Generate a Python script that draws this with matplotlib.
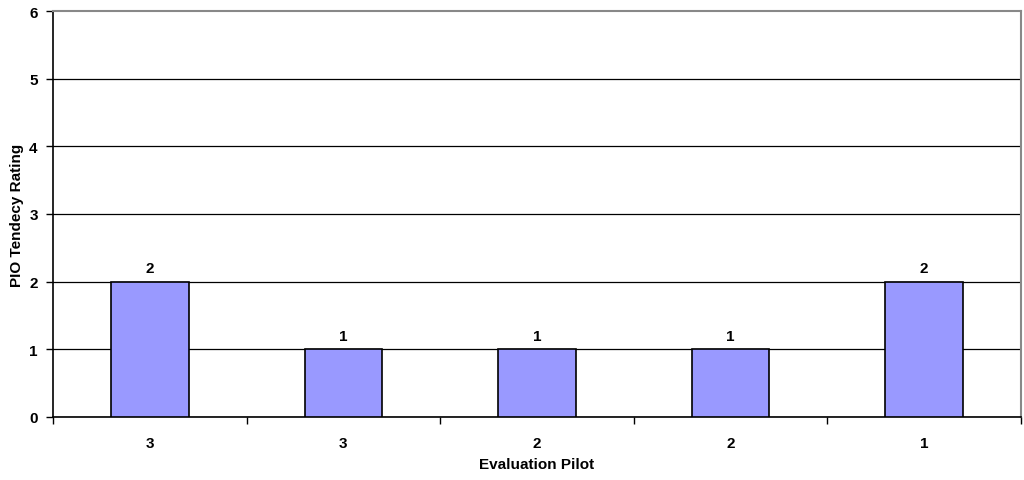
"""Bar chart: PIO tendency rating per evaluation pilot."""

import matplotlib
matplotlib.use("Agg")
import matplotlib.pyplot as plt
import numpy as np

pilots = ["3", "3", "2", "2", "1"]
ratings = [2, 1, 1, 1, 2]

plt.rcParams["font.family"] = ["Liberation Sans", "DejaVu Sans"]
plt.rcParams["font.weight"] = "bold"
FS = 11

fig = plt.figure(figsize=(10.24, 4.81), dpi=100)
ax = fig.add_axes([53 / 1024, 63 / 481, 968 / 1024, 406 / 481])

x = np.arange(len(pilots))
ax.bar(x, ratings, width=0.4, color="#9999FF", edgecolor="black",
       linewidth=1.2, zorder=3)
for xi, v in zip(x, ratings):
    ax.text(xi, v + 0.1, str(v), ha="center", va="bottom",
            fontsize=FS, fontweight="bold")

ax.set_xlim(-0.5, len(pilots) - 0.5)
ax.set_ylim(0, 6)
ax.set_yticks(range(7))
ax.yaxis.grid(True, color="black", linewidth=0.9)
ax.set_axisbelow(True)
ax.yaxis.get_gridlines()[-1].set_visible(False)

# category labels centred, ticks on the boundaries
ax.set_xticks(x)
ax.set_xticklabels(pilots, fontsize=FS, fontweight="bold")
ax.tick_params(axis="x", which="major", length=0, pad=14)
ax.set_xticks(np.arange(-0.5, len(pilots)), minor=True)
ax.tick_params(axis="x", which="minor", length=5, width=1, direction="out")
ax.tick_params(axis="y", length=5, width=1, labelsize=FS, pad=6)

ax.spines["left"].set_linewidth(1.2)
ax.spines["bottom"].set_linewidth(1.2)
for s in ["top", "right"]:
    ax.spines[s].set_color("#888888")
    ax.spines[s].set_linewidth(1.5)

ax.set_xlabel("Evaluation Pilot", fontsize=FS, fontweight="bold", labelpad=5)
ax.set_ylabel("PIO Tendecy Rating", fontsize=FS, fontweight="bold")
ax.yaxis.set_label_coords(-0.030, 0.5)

fig.savefig("out.png", dpi=100)
